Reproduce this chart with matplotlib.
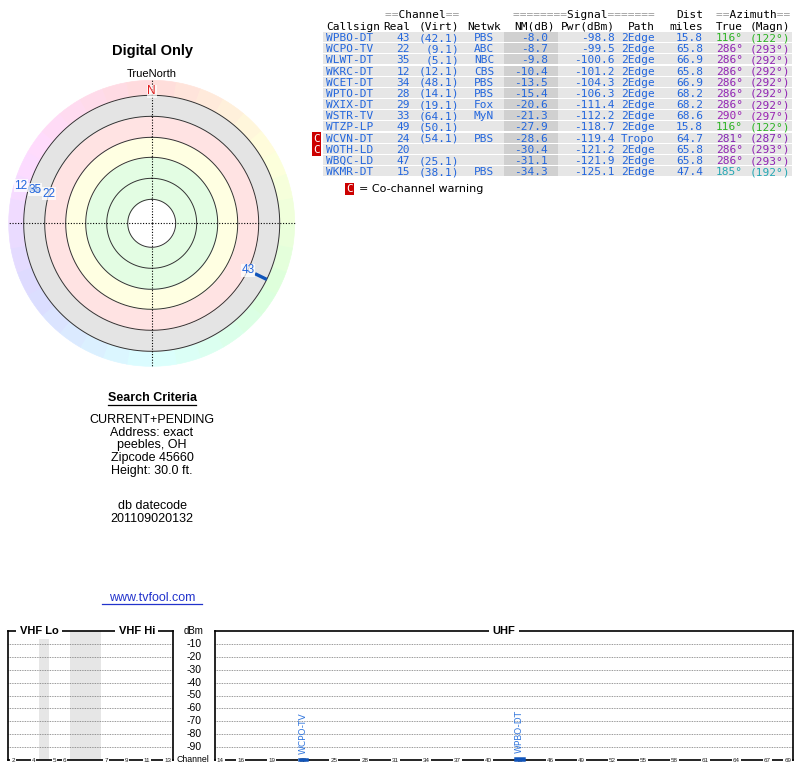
import matplotlib
matplotlib.use('Agg')
import matplotlib.pyplot as plt
import matplotlib.transforms as mtransforms
import numpy as np
from matplotlib.colors import hsv_to_rgb
from matplotlib.lines import Line2D

# station table
callsign = ['WPBO-DT', 'WCPO-TV', 'WLWT-DT', 'WKRC-DT', 'WCET-DT', 'WPTO-DT', 'WXIX-DT',
            'WSTR-TV', 'WTZP-LP', 'WCVN-DT', 'WOTH-LD', 'WBQC-LD', 'WKMR-DT']
real_ch = [43, 22, 35, 12, 34, 28, 29, 33, 49, 24, 20, 47, 15]
virt_ch = ['(42.1)', '(9.1)', '(5.1)', '(12.1)', '(48.1)', '(14.1)', '(19.1)',
           '(64.1)', '(50.1)', '(54.1)', '', '(25.1)', '(38.1)']
netwk = ['PBS', 'ABC', 'NBC', 'CBS', 'PBS', 'PBS', 'Fox', 'MyN', '', 'PBS', '', '', 'PBS']
nm_db = [-8.0, -8.7, -9.8, -10.4, -13.5, -15.4, -20.6, -21.3, -27.9, -28.6, -30.4, -31.1, -34.3]
pwr_dbm = [-98.8, -99.5, -100.6, -101.2, -104.3, -106.3, -111.4, -112.2, -118.7, -119.4,
           -121.2, -121.9, -125.1]
path = ['2Edge', '2Edge', '2Edge', '2Edge', '2Edge', '2Edge', '2Edge', '2Edge', '2Edge',
        'Tropo', '2Edge', '2Edge', '2Edge']
dist_mi = [15.8, 65.8, 66.9, 65.8, 66.9, 68.2, 68.2, 68.6, 15.8, 64.7, 65.8, 65.8, 47.4]
az_true = [116, 286, 286, 286, 286, 286, 286, 290, 116, 281, 286, 286, 185]
az_magn = [122, 293, 292, 292, 292, 292, 292, 297, 122, 287, 293, 293, 192]
cochannel = [False, False, False, False, False, False, False, False, False, True, True, False, False]

criteria = ['CURRENT+PENDING', 'Address: exact', 'peebles, OH', 'Zipcode 45660', 'Height: 30.0 ft.']
datecode = ['db datecode', '201109020132']

vhf_ticks = [2, 4, 5, 6, 7, 9, 11, 13]
uhf_ticks = [14, 16, 19, 22, 25, 28, 31, 34, 37, 40, 43, 46, 49, 52, 55, 58, 61, 64, 67, 69]
dbm_ticks = [-10, -20, -30, -40, -50, -60, -70, -80, -90]

W, H = 800, 768
SANS = 'Liberation Sans'
MONO = 'DejaVu Sans Mono'
BLUE = '#2266dd'
BAR = '#1155bb'


def fx(x):
    return x / W


def fy(y):
    return 1 - y / H


def bearing_color(b, s, v):
    return hsv_to_rgb(((b % 360) / 360.0, s, v))


def nm_to_r(nm):
    return 107 - nm


fig = plt.figure(figsize=(W / 100, H / 100), dpi=100)

# ---------------- polar plot ----------------
cx, cy, R = 151.7, 223.3, 144
ax_p = fig.add_axes([fx(cx - R), fy(cy + R), 2 * R / W, 2 * R / H], projection='polar')
ax_p.set_theta_zero_location('N')
ax_p.set_theta_direction(-1)
ax_p.set_ylim(0, R)
ax_p.set_axis_off()

nseg = 36
seg_w = 2 * np.pi / nseg
seg_th = np.arange(nseg) * seg_w + seg_w / 2
seg_col = [bearing_color(np.rad2deg(t), 0.14, 1.0) for t in seg_th]
ax_p.bar(seg_th, 15, width=seg_w, bottom=128, color=seg_col, edgecolor=seg_col, lw=0.5)

th = np.linspace(0, 2 * np.pi, 361)
bands = [(107, 128, '#e4e4e4'), (86, 107, '#ffe3e3'), (66, 86, '#ffffe2'), (24, 66, '#e3fde3')]
for r0, r1, c in bands:
    ax_p.fill_between(th, r0, r1, color=c, lw=0)
for r in [24, 45, 66, 86, 107, 128]:
    ax_p.plot(th, np.full_like(th, r), color='#333333', lw=0.7)
for a in [0, np.pi / 2, np.pi, 3 * np.pi / 2]:
    ax_p.plot([a, a], [0, R], color='black', lw=0.8, ls=(0, (1, 1.5)))

ax_p.text(0, 132, 'N', color='#e02020', ha='center', va='center', fontsize=8.5, family=SANS,
          bbox=dict(boxstyle='square,pad=0.05', fc='white', ec='none', alpha=0.7), zorder=5)
ax_p.text(0, 149, 'TrueNorth', ha='center', va='center', fontsize=8, family=SANS, clip_on=False)

polar_idx = [i for i in range(len(callsign)) if nm_db[i] > -11]
stack = {}
for i in sorted(polar_idx, key=lambda j: -nm_db[j]):
    b = az_true[i]
    k = stack.get(b, 0)
    stack[b] = k + 1
    t = np.deg2rad(b)
    ax_p.plot([t, t], [nm_to_r(nm_db[i]), 128], color=BAR, lw=2.4, solid_capstyle='butt', zorder=4)
    ax_p.text(t, 107 + 14.5 * k, str(real_ch[i]), color=BLUE, ha='center', va='center',
              fontsize=8.5, family=SANS, zorder=6, clip_on=False,
              bbox=dict(boxstyle='square,pad=0.05', fc='white', ec='none', alpha=0.75))

fig.text(fx(152), fy(51), 'Digital Only', ha='center', va='center', fontsize=10.5,
         weight='bold', family=SANS)

# ---------------- table ----------------
row_y0, row_h = 37, 11.18
ax_t = fig.add_axes([0, fy(200), 1, 200 / H])
ax_t.set_xlim(0, W)
ax_t.set_ylim((200 - row_y0) / row_h, -row_y0 / row_h)
ax_t.set_axis_off()

rows = np.arange(len(callsign))
ax_t.barh(rows, 469, left=323, height=0.9, color='#e6e6e6', lw=0)
ax_t.barh(rows, 54, left=504, height=0.9, color='#d0d0d0', lw=0)

BASE = 0.36  # baseline sits a bit below the row centre
tk = dict(family=MONO, fontsize=8, va='baseline')
cols = [(326, 'left'), (410, 'right'), (459, 'right'), (484, 'center'), (548, 'right'),
        (615, 'right'), (655, 'right'), (703, 'right'), (743, 'right'), (790, 'right')]
for i in rows:
    ac = bearing_color(az_true[i], 0.8, 0.7)
    vals = [callsign[i], str(real_ch[i]), virt_ch[i], netwk[i], '%.1f' % nm_db[i],
            '%.1f' % pwr_dbm[i], path[i], '%.1f' % dist_mi[i],
            '%d\u00b0' % az_true[i], '(%d\u00b0)' % az_magn[i]]
    for j, ((x, ha), s) in enumerate(zip(cols, vals)):
        ax_t.text(x, i + BASE, s, ha=ha, color=ac if j >= 8 else BLUE, **tk)
    if cochannel[i]:
        ax_t.text(316.5, i + BASE, 'C', ha='center', color='white', **tk,
                  bbox=dict(boxstyle='square,pad=0.12', fc='#cc0000', ec='none'))

heads = ['Callsign', 'Real', '(Virt)', 'Netwk', 'NM(dB)', 'Pwr(dBm)', 'Path', 'miles',
         'True', '(Magn)']
hx = [326, 410, 459, 484, 555, 615, 655, 703, 743, 790]
for (x, ha), x2, s in zip(cols, hx, heads):
    ax_t.text(x2, -1 + BASE, s, ha=ha, color='black', **tk)

groups = [(459, 'right', '==', 'Channel', '=='), (655, 'right', '========', 'Signal', '======='),
          (790, 'right', '==', 'Azimuth', '==')]
for x, ha, l, wd, r in groups:
    ax_t.text(x, -2.05 + BASE, l + ' ' * len(wd) + r, ha=ha, color='#999999', **tk)
    ax_t.text(x, -2.05 + BASE, ' ' * len(l) + wd + ' ' * len(r), ha=ha, color='black', **tk)
ax_t.text(703, -2.05 + BASE, 'Dist', ha='right', color='black', **tk)

ax_t.text(349.5, 13.5 + BASE, 'C', ha='center', color='white', **tk,
          bbox=dict(boxstyle='square,pad=0.12', fc='#cc0000', ec='none'))
ax_t.text(359, 13.5 + BASE, '= Co-channel warning', ha='left', va='baseline', fontsize=8,
          family='DejaVu Sans', color='black')

# ---------------- search criteria ----------------
fig.text(fx(152), fy(398), 'Search Criteria', ha='center', va='center', fontsize=9,
         weight='bold', family=SANS)
fig.add_artist(Line2D([fx(108), fx(196)], [fy(404.5), fy(404.5)], color='black', lw=0.9))
for k, s in enumerate(criteria):
    fig.text(fx(152), fy(420 + 12.7 * k), s, ha='center', va='center', fontsize=9, family=SANS)
for k, s in enumerate(datecode):
    fig.text(fx(152), fy(506 + 12.7 * k), s, ha='center', va='center', fontsize=9, family=SANS)
fig.text(fx(152), fy(598), 'www.tvfool.com', ha='center', va='center', fontsize=9,
         family=SANS, color='#2233cc')
fig.add_artist(Line2D([fx(102), fx(202)], [fy(604), fy(604)], color='#2233cc', lw=0.9))

# ---------------- spectrum ----------------
vhf_slot = {2: 0, 3: 1, 4: 2, 5: 4, 6: 5, 7: 9, 8: 10, 9: 11, 10: 12, 11: 13, 12: 14, 13: 15}

ax_v = fig.add_axes([fx(8), fy(760), 165 / W, 129 / H])
ax_u = fig.add_axes([fx(215), fy(760), 578 / W, 129 / H])
ax_v.set_xlim(0, 16)
ax_u.set_xlim(13.5, 69.5)
for ax in (ax_v, ax_u):
    ax.set_ylim(-100, 0)
    ax.set_yticks(dbm_ticks)
    ax.set_xticks([])
    ax.yaxis.grid(True, ls=(0, (1, 1)), color='#777777', lw=0.6)
    ax.tick_params(left=False, labelleft=False)
    for s in ax.spines.values():
        s.set_linewidth(1.2)

ax_v.axvspan(3, 4, color='#e6e6e6', lw=0)
ax_v.axvspan(6, 9, color='#e6e6e6', lw=0)

lab = dict(fontsize=4.5, family=SANS, color='#222222', ha='center', va='center', zorder=4,
           bbox=dict(boxstyle='square,pad=0.15', fc='white', ec='none'))
for ch in vhf_ticks:
    ax_v.text(vhf_slot[ch] + 0.5, -100, str(ch), **lab)
for ch in uhf_ticks:
    ax_u.text(ch, -100, str(ch), **lab)

top = dict(fontsize=8, family=SANS, weight='bold', ha='center', va='center',
           bbox=dict(boxstyle='square,pad=0.3', fc='white', ec='none'))
ax_v.text(3.0, 0, 'VHF Lo', **top)
ax_v.text(12.5, 0, 'VHF Hi', **top)
ax_u.text(41.5, 0, 'UHF', **top)

bt = mtransforms.blended_transform_factory(fig.transFigure, ax_u.transData)
side = dict(transform=bt, ha='center', va='center', family=SANS)
ax_u.text(fx(194), 0, 'dBm', fontsize=7, **side)
for v in dbm_ticks:
    ax_u.text(fx(194), v, str(v), fontsize=7.5, **side)
ax_u.text(fx(193), -100, 'Channel', fontsize=6.3, **side)

for i in range(len(callsign)):
    if pwr_dbm[i] <= -100:
        continue
    ch = real_ch[i]
    ax = ax_u if ch >= 14 else ax_v
    x = ch if ch >= 14 else vhf_slot[ch] + 0.5
    ax.bar(x, pwr_dbm[i] + 100, bottom=-100, width=0.8, color=BAR, edgecolor=BAR, lw=1.8,
           clip_on=False, zorder=5)
    ax.annotate(callsign[i], (x, pwr_dbm[i]), xytext=(0, 4), textcoords='offset points',
                rotation=90, ha='center', va='bottom', fontsize=6.5, color='#3377dd',
                family='DejaVu Sans', zorder=6)

fig.savefig('out.png', dpi=100)
